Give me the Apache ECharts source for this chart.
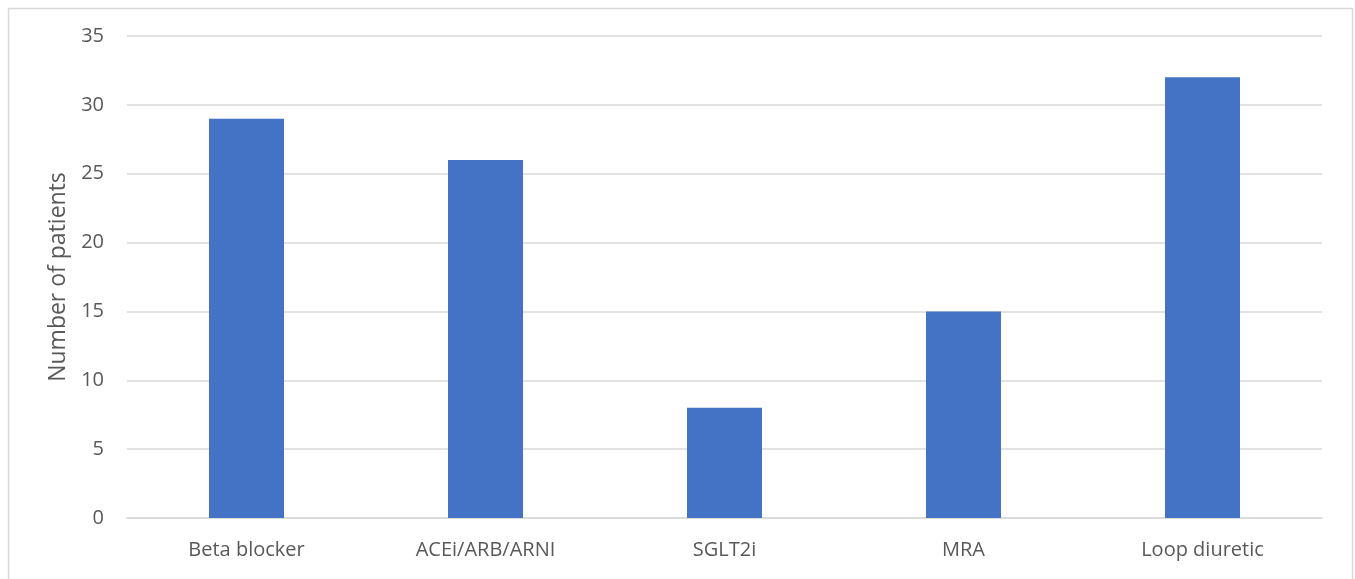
<!DOCTYPE html>
<html>
<head>
<meta charset="utf-8">
<script src="https://cdn.jsdelivr.net/npm/echarts@6/dist/echarts.min.js"></script>
<style>
  html, body { margin: 0; padding: 0; background: #ffffff; }
  #chart { width: 1355px; height: 579px; }
</style>
</head>
<body>
<div id="chart"></div>
<script>
// Heart-failure medication use
const categories = ['Beta blocker', 'ACEi/ARB/ARNI', 'SGLT2i', 'MRA', 'Loop diuretic'];
const patientCounts = [29, 26, 8, 15, 32];
const yTicks = { min: 0, max: 35, interval: 5 };

const textColor = '#595959';
const lineColor = '#d9d9d9';
const fontFamily = 'Open Sans, Noto Sans, sans-serif';

const chart = echarts.init(document.getElementById('chart'), null, { renderer: 'canvas' });
chart.setOption({
  animation: false,
  backgroundColor: '#ffffff',
  graphic: [{
    type: 'rect',
    left: 6, top: 6,
    shape: { width: 1344, height: 620 },
    style: { fill: 'none', stroke: lineColor, lineWidth: 1.5 },
    silent: true
  }],
  grid: { left: 127, right: 33, top: 36, bottom: 61, containLabel: false },
  xAxis: {
    type: 'category',
    data: categories,
    axisLine: { show: true, lineStyle: { color: lineColor, width: 1.5 } },
    axisTick: { show: false },
    axisLabel: { color: textColor, fontSize: 20, fontFamily, margin: 22 }
  },
  yAxis: {
    type: 'value',
    min: yTicks.min, max: yTicks.max, interval: yTicks.interval,
    name: 'Number of patients',
    nameLocation: 'middle',
    nameGap: 56,
    nameRotate: 90,
    nameTextStyle: { color: textColor, fontSize: 23, fontFamily },
    axisLine: { show: false },
    axisTick: { show: false },
    axisLabel: { color: textColor, fontSize: 20, fontFamily, margin: 23 },
    splitLine: { lineStyle: { color: lineColor, width: 1.5 } }
  },
  series: [{
    type: 'bar',
    data: patientCounts,
    barWidth: 75,
    itemStyle: { color: '#4472c4' }
  }]
});
</script>
</body>
</html>
